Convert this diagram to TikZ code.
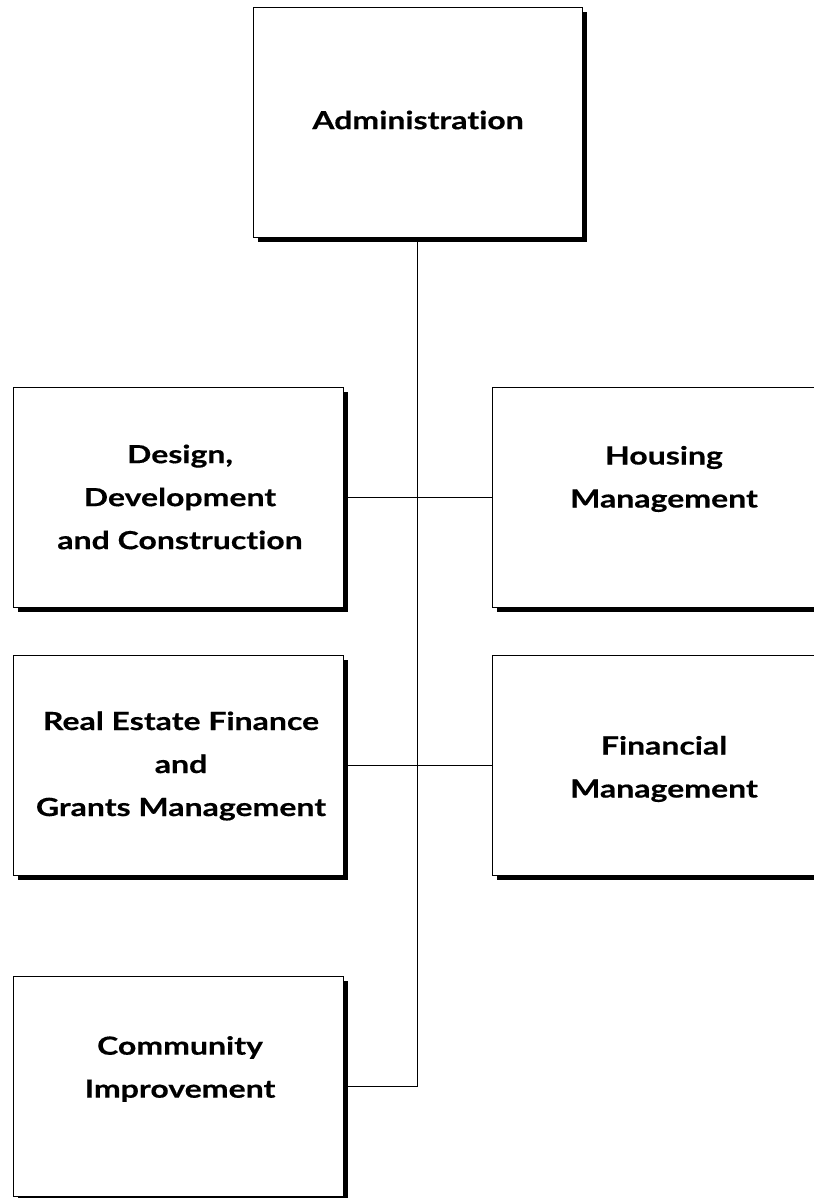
\documentclass[tikz,border=0pt]{standalone}
\usepackage{fontspec}
\setmainfont[FakeStretch=1.28,Ligatures=NoCommon,BoldFeatures={FakeBold=0.4}]{Lato}
\usepackage{tikz}
\usetikzlibrary{positioning,shadows,calc}

\tikzset{
  orgbox/.style={draw=black, line width=0.9pt, fill=white, minimum width=330pt,
    minimum height=220pt, inner sep=0pt,
    drop shadow={shadow xshift=5pt, shadow yshift=-5pt, opacity=1, fill=black}},
  orgtext/.style={align=center, font=\bfseries\fontsize{25}{43}\selectfont},
  link/.style={line width=0.9pt}
}

\begin{document}
\begin{tikzpicture}[x=1pt,y=-1pt]
\useasboundingbox (0,0) rectangle (813,1198);
% boxes
\node[orgbox, minimum width=329pt, minimum height=230pt] (adm) at (417.5,122) {};
\node[orgbox] (ddc) at (178,497) {};
\node[orgbox] (hm) at (657,497) {};
\node[orgbox] (ref) at (178,765) {};
\node[orgbox] (fm) at (657,765) {};
\node[orgbox] (ci) at (178,1086) {};
% labels
\node[orgtext] (admt) at (418,120) {Administration};
\node[orgtext] (ddct) at (180,497) {Design,\\Development\\and Construction};
\node[orgtext] (hmt) at (664,479) {Housing\\Management};
\node[orgtext] (reft) at (181,766) {Real Estate Finance\\and\\Grants Management};
\node[orgtext] (fmt) at (664,769) {Financial\\Management};
\node[orgtext] (cit) at (180,1069) {Community\\Improvement};
% connectors
\coordinate (trunkend) at (adm.south |- ci.east);
\draw[link] (adm.south) -- (trunkend);
\draw[link] (ddc.east) -- (hm.west);
\draw[link] (ref.east) -- (fm.west);
\draw[link] (ci.east) -- (trunkend);
\end{tikzpicture}
\end{document}
